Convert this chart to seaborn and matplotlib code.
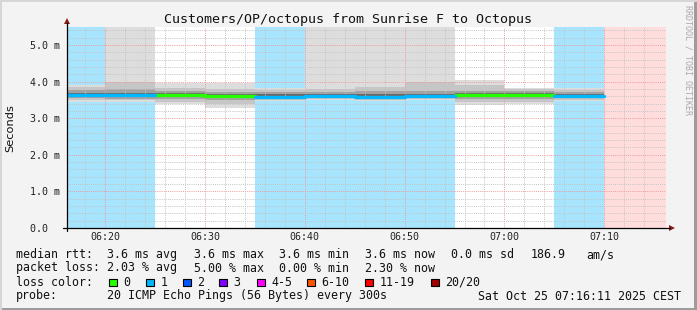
import numpy as np
import pandas as pd
import matplotlib
matplotlib.use("Agg")
import matplotlib.pyplot as plt
from matplotlib.lines import Line2D
from matplotlib.patches import Rectangle, Polygon
import seaborn as sns

# ---------------- data (minutes after 06:00, values in ms) ----------------
interval_start = [15, 20, 25, 30, 35, 40, 45, 50, 55, 60, 65]
loss_class     = [1, 1, 0, 0, 1, 1, 1, 1, 0, 0, 1]
median_ms      = [3.64, 3.63, 3.64, 3.60, 3.59, 3.60, 3.58, 3.61, 3.63, 3.63, 3.60]
outer_lo       = [3.45, 3.45, 3.38, 3.27, 3.48, 3.49, 3.48, 3.49, 3.36, 3.38, 3.48]
outer_hi       = [3.92, 6.00, 3.95, 3.97, 3.82, 6.00, 6.00, 6.00, 4.04, 3.82, 3.82]
mid_lo         = [3.50, 3.49, 3.45, 3.40, 3.51, 3.52, 3.51, 3.52, 3.44, 3.44, 3.51]
mid_hi         = [3.84, 4.00, 3.82, 3.80, 3.78, 3.79, 3.86, 3.98, 3.90, 3.79, 3.78]
inner_lo       = [3.54, 3.53, 3.53, 3.50, 3.54, 3.55, 3.54, 3.55, 3.52, 3.52, 3.54]
inner_hi       = [3.76, 3.79, 3.74, 3.72, 3.72, 3.72, 3.74, 3.75, 3.74, 3.73, 3.72]
core_lo        = [3.57, 3.57, 3.57, 3.55, 3.56, 3.57, 3.56, 3.57, 3.57, 3.57, 3.57]
core_hi        = [3.70, 3.69, 3.69, 3.66, 3.66, 3.67, 3.66, 3.67, 3.69, 3.69, 3.67]
interval_len = 5
unknown_start = 70
view_start = 16 + 11 / 60
view_end = 76 + 11 / 60

time_ticks = [20, 30, 40, 50, 60, 70]
time_labels = ["06:20", "06:30", "06:40", "06:50", "07:00", "07:10"]
y_ticks = [0, 1, 2, 3, 4, 5]
y_labels = ["0.0  ", "1.0 m", "2.0 m", "3.0 m", "4.0 m", "5.0 m"]

loss_names = ["0", "1", "2", "3", "4-5", "6-10", "11-19", "20/20"]
loss_colors = ["#26ff00", "#00b8ff", "#0059ff", "#7e00ff", "#ff00ff", "#ff5500", "#ff0000", "#a10000"]
loss_bg = {0: "#ffffff", 1: "#a6e5fd"}
unknown_bg = "#ffdddd"

title = "Customers/OP/octopus from Sunrise F to Octopus"
legend_rows = [
    [(16, "median rtt:"), (107, "3.6 ms avg"), (194, "3.6 ms max"), (279, "3.6 ms min"),
     (365, "3.6 ms now"), (451, "0.0 ms sd"), (531, "186.9"), (586, "am/s")],
    [(16, "packet loss:"), (107, "2.03 % avg"), (194, "5.00 % max"), (279, "0.00 % min"),
     (365, "2.30 % now")],
]
loss_box_x = [109, 146, 183, 219, 257, 307, 365, 431]
probe_text = "20 ICMP Echo Pings (56 Bytes) every 300s"
stamp_text = "Sat Oct 25 07:16:11 2025 CEST"

# ---------------- figure ----------------
W, H = 697, 310
sns.set_style("white")
MONO = ["DejaVu Sans Mono"]
BG = "#f3f3f3"

fig = plt.figure(figsize=(W / 100, H / 100), dpi=100, facecolor=BG)

def fx(px):
    return px / W

def fy(py):
    return 1 - py / H

ax_left, ax_right, ax_bottom, ax_top = 67, 666, 228, 26.7
ax = fig.add_axes([fx(ax_left), fy(ax_bottom), (ax_right - ax_left) / W, (ax_bottom - ax_top) / H])
ax.set_facecolor("white")
ax.set_xlim(view_start, view_end)
ax.set_ylim(0, 5.5)

# background loss colouring
for s, lc in zip(interval_start, loss_class):
    ax.axvspan(max(s, view_start), s + interval_len, color=loss_bg[lc], lw=0, zorder=0.5)
ax.axvspan(unknown_start, view_end, color=unknown_bg, lw=0, zorder=0.5)

# smoke layers
layers = [(outer_lo, outer_hi, "#dddddd"), (mid_lo, mid_hi, "#c6c6c6"),
          (inner_lo, inner_hi, "#a2a2a2"), (core_lo, core_hi, "#6a6a6a")]
for lo, hi, col in layers:
    for i, s in enumerate(interval_start):
        x0, x1 = max(s, view_start), s + interval_len
        ax.fill_between([x0, x1], [lo[i]] * 2, [hi[i]] * 2, color=col, lw=0, zorder=1)

# median line coloured by loss
rows = []
for i, s in enumerate(interval_start):
    for t in (max(s, view_start), s + interval_len):
        rows.append({"t": t, "ms": median_ms[i], "seg": i, "loss": loss_class[i]})
df = pd.DataFrame(rows)
sns.lineplot(data=df, x="t", y="ms", hue="loss", units="seg", estimator=None,
             palette={0: loss_colors[0], 1: loss_colors[1]}, lw=2.4,
             legend=False, ax=ax, zorder=3)
ax.set_xlabel("")
ax.set_ylabel("")

# grid
ax.set_xticks(time_ticks, labels=time_labels)
ax.set_xticks(np.arange(18, 76, 2), minor=True)
ax.set_yticks(y_ticks, labels=y_labels)
ax.set_yticks(np.arange(0.2, 5.5, 0.2), minor=True)
ax.set_axisbelow(False)
ax.grid(which="minor", color="#c4c4c4", linestyle=(0, (1, 1.2)), lw=0.7)
ax.grid(which="major", color="#ef9a9a", linestyle=(0, (1, 1.2)), lw=0.7)
ax.tick_params(which="both", length=0)
ax.tick_params(axis="y", pad=5)
ax.tick_params(axis="x", pad=3)
for lbl in ax.get_yticklabels() + ax.get_xticklabels():
    lbl.set_fontfamily(MONO)
    lbl.set_fontsize(7.2)
    lbl.set_color("#222222")
for sp in ax.spines.values():
    sp.set_visible(False)

# axis lines with arrows
fig.add_artist(Line2D([fx(63), fx(670)], [fy(228), fy(228)], color="black", lw=0.9))
fig.add_artist(Line2D([fx(67), fx(67)], [fy(231), fy(23)], color="black", lw=0.9))
fig.add_artist(Polygon([[fx(64), fy(24)], [fx(70), fy(24)], [fx(67), fy(18)]],
                       closed=True, color="#8b1a1a", lw=0))
fig.add_artist(Polygon([[fx(669), fy(225)], [fx(669), fy(231)], [fx(675), fy(228)]],
                       closed=True, color="#8b1a1a", lw=0))

# texts
fig.text(fx(348.5), fy(20), title, family=MONO, fontsize=9.6, ha="center", va="center", color="#111111")
fig.text(fx(10), fy(128), "Seconds", family=["DejaVu Sans"], fontsize=8.2, rotation=90,
         ha="center", va="center", color="#111111")
fig.text(fx(688), fy(5), "RRDTOOL / TOBI OETIKER", family=MONO, fontsize=6, rotation=270,
         ha="center", va="top", color="#aaaaaa")

LFS = 8.4
row_y = [254.5, 268, 282, 296]
for r, items in enumerate(legend_rows):
    for x, txt in items:
        fig.text(fx(x), fy(row_y[r]), txt, family=MONO, fontsize=LFS, ha="left", va="center", color="#111111")
fig.text(fx(16), fy(row_y[2]), "loss color:", family=MONO, fontsize=LFS, ha="left", va="center", color="#111111")
for bx, name, col in zip(loss_box_x, loss_names, loss_colors):
    fig.add_artist(Rectangle((fx(bx), fy(286)), 7.5 / W, 7.5 / H, facecolor=col,
                             edgecolor="black", lw=0.8))
    fig.text(fx(bx + 14.5), fy(row_y[2]), name, family=MONO, fontsize=LFS, ha="left", va="center", color="#111111")
fig.text(fx(16), fy(row_y[3]), "probe:", family=MONO, fontsize=LFS, ha="left", va="center", color="#111111")
fig.text(fx(107), fy(row_y[3]), probe_text, family=MONO, fontsize=LFS, ha="left", va="center", color="#111111")
fig.text(fx(478), fy(row_y[3]), stamp_text, family=MONO, fontsize=LFS, ha="left", va="center", color="#111111")

# frame
fig.add_artist(Rectangle((0, 0), 1, 2 / H, facecolor="#9c9c9c", lw=0))
fig.add_artist(Rectangle((1 - 3 / W, 0), 3 / W, 1, facecolor="#9c9c9c", lw=0))
fig.add_artist(Rectangle((0, 0), 2 / W, 1, facecolor="#d6d6d6", lw=0))
fig.add_artist(Rectangle((0, 1 - 2 / H), 1, 2 / H, facecolor="#d6d6d6", lw=0))

fig.savefig("out.png", dpi=100, facecolor=BG)
